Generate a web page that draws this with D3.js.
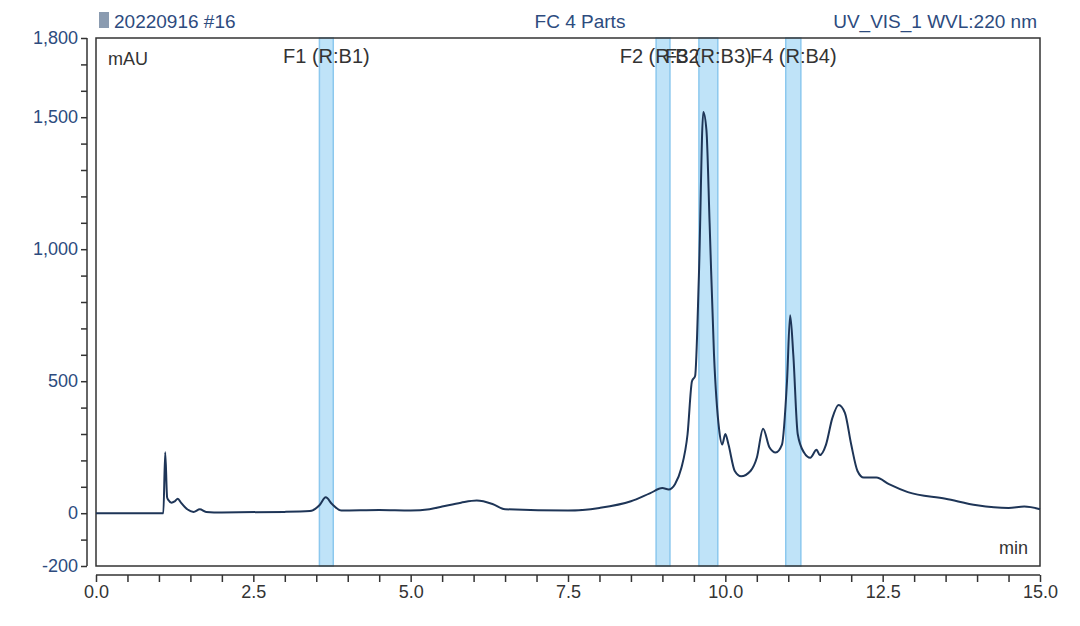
<!DOCTYPE html>
<html><head><meta charset="utf-8">
<script src="https://cdn.jsdelivr.net/npm/d3@7"></script>
<style>body{margin:0;background:#fff;font-family:"Liberation Sans",Arial,sans-serif;}</style>
</head><body>
<script>
// chromatogram points [min, mAU]
var times = [0,1.07,1.1,1.13,1.15,1.2,1.25,1.3,1.35,1.45,1.55,1.65,1.75,2.0,3.0,3.4,3.55,3.65,3.75,3.9,4.5,5.0,5.3,5.5,5.8,6.05,6.3,6.5,7.5,8.0,8.5,8.8,9.0,9.1,9.2,9.3,9.4,9.47,9.52,9.58,9.65,9.7,9.75,9.82,9.9,9.95,10.0,10.05,10.15,10.25,10.4,10.5,10.6,10.7,10.8,10.9,10.98,11.03,11.08,11.15,11.25,11.35,11.45,11.5,11.6,11.7,11.8,11.9,12.0,12.1,12.2,12.4,12.6,12.9,13.5,14.0,14.5,14.75,15.0];
var mAU   = [0,0,231,60,50,40,45,55,40,15,5,15,5,3,5,8,30,60,35,10,12,10,15,25,40,48,35,15,10,20,45,75,95,90,110,170,300,500,520,900,1520,1450,1100,600,320,260,300,260,160,140,160,210,320,250,230,260,500,750,600,300,230,210,240,220,260,360,410,380,260,160,135,135,110,80,55,30,20,25,15];
var fractions = ["F1 (R:B1)","F2 (R:B2)","F3 (R:B3)","F4 (R:B4)"];
var fracStart = [3.55,8.9,9.58,10.96];
var fracEnd   = [3.77,9.12,9.88,11.2];
var yLabels = [-200,0,500,1000,1500,1800];
var xLabels = [0,2.5,5,7.5,10,12.5,15];

var width = 1080, height = 626;
var svg = d3.select("body").append("svg").attr("width",width).attr("height",height);

var xScale = d3.scaleLinear().domain([0,15]).range([96,1040]);
var yScale = d3.scaleLinear().domain([-200,1800]).range([566,38]);
var blue = "#2d4b7e";

// fraction bands
fractions.forEach(function(f,i){
  svg.append("rect")
    .attr("x",xScale(fracStart[i])).attr("y",38)
    .attr("width",xScale(fracEnd[i])-xScale(fracStart[i])).attr("height",528)
    .attr("fill","#bfe3f8").attr("stroke","#8cc8ee").attr("stroke-width",1.5);
  svg.append("text")
    .attr("x",xScale((fracStart[i]+fracEnd[i])/2)).attr("y",63)
    .attr("text-anchor","middle").attr("font-size",20).attr("fill","#333")
    .text(f);
});

// plot frame
svg.append("rect").attr("x",96).attr("y",38).attr("width",944).attr("height",528)
  .attr("fill","none").attr("stroke","#333").attr("stroke-width",1.5);

var valueline = d3.line()
  .x(function(d){ return xScale(d[0]); })
  .y(function(d){ return yScale(d[1]); })
  .curve(d3.curveMonotoneX);
svg.append("path").datum(d3.zip(times,mAU))
  .attr("d",valueline).attr("fill","none").attr("stroke","#1e3557").attr("stroke-width",2);

// y axis
var yAxis = svg.append("g").attr("transform","translate(87,0)")
  .call(d3.axisLeft(yScale).tickValues(d3.range(-200,1801,100)).tickSize(6)
    .tickFormat(function(d){ return yLabels.indexOf(d)>=0 ? d3.format(",")(d).replace("−","-") : ""; }));
yAxis.selectAll("text").attr("font-size",18).attr("fill",blue).attr("font-family","Liberation Sans, Arial");
yAxis.selectAll("line,path").attr("stroke","#333").attr("stroke-width",1.5);
yAxis.select(".domain").attr("d","M0,38V566");

// x axis
var xAxis = svg.append("g").attr("transform","translate(0,575)")
  .call(d3.axisBottom(xScale).tickValues(d3.range(0,15.01,0.5)).tickSize(7)
    .tickFormat(function(d){ return xLabels.indexOf(d)>=0 ? d3.format(".1f")(d) : ""; }));
xAxis.selectAll("text").attr("font-size",18).attr("fill","#333").attr("font-family","Liberation Sans, Arial");
xAxis.selectAll("line,path").attr("stroke","#333").attr("stroke-width",1.5);
xAxis.select(".domain").attr("d","M96,0H1040");

// header texts
svg.append("text").attr("x",114).attr("y",28).attr("font-size",19).attr("fill",blue).text("20220916 #16");
svg.append("rect").attr("x",99).attr("y",12).attr("width",10).attr("height",16).attr("fill","#8a9bb0");
svg.append("text").attr("x",580).attr("y",28).attr("text-anchor","middle").attr("font-size",19).attr("fill",blue).text("FC 4 Parts");
svg.append("text").attr("x",1037).attr("y",28).attr("text-anchor","end").attr("font-size",19).attr("fill",blue).text("UV_VIS_1 WVL:220 nm");
svg.append("text").attr("x",108).attr("y",65).attr("font-size",18).attr("fill","#333").text("mAU");
svg.append("text").attr("x",1028).attr("y",554).attr("text-anchor","end").attr("font-size",18).attr("fill","#333").text("min");
</script>
</body></html>
